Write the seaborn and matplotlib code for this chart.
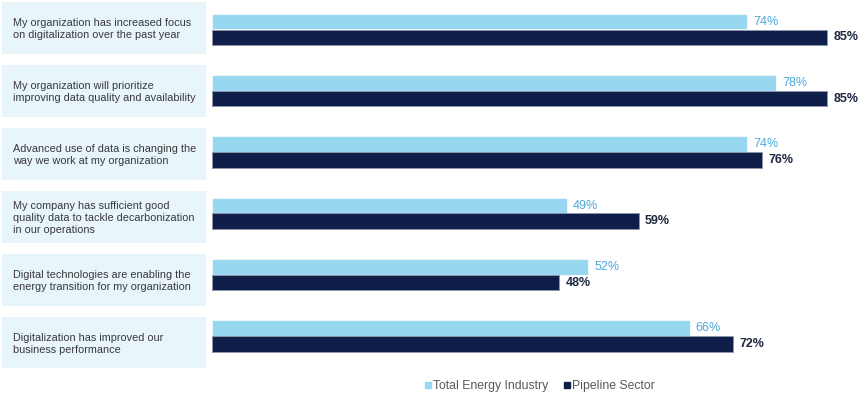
import numpy as np
import pandas as pd
import matplotlib.pyplot as plt
import matplotlib.patches as mpatches
from matplotlib.lines import Line2D
import seaborn as sns

# ============ DATA ============
statements = [
    "My organization has increased focus\non digitalization over the past year",
    "My organization will prioritize\nimproving data quality and availability",
    "Advanced use of data is changing the\nway we work at my organization",
    "My company has sufficient good\nquality data to tackle decarbonization\nin our operations",
    "Digital technologies are enabling the\nenergy transition for my organization",
    "Digitalization has improved our\nbusiness performance",
]
series_names = ["Total Energy Industry", "Pipeline Sector"]
total_energy = [74, 78, 74, 49, 52, 66]
pipeline = [85, 85, 76, 59, 48, 72]

LIGHT = '#97D8F0'
DARK = '#101F4A'
BOX = '#E8F6FC'
LIGHT_TXT = '#4AA8DC'
DARK_TXT = '#1E2840'

df = pd.DataFrame({
    'statement': statements * 2,
    'series': [series_names[0]] * len(statements) + [series_names[1]] * len(statements),
    'value': total_energy + pipeline,
})

sns.set_theme(style='white')
plt.rcParams['font.family'] = ['Liberation Sans', 'DejaVu Sans']

W, H = 864, 397
fig = plt.figure(figsize=(W / 100, H / 100), dpi=100)

# both panels span the same pixel band, but rows have slightly different pitch
top_px, bot_px = 0, 380
ax_y = 1 - bot_px / H
ax_h = (bot_px - top_px) / H


def row_ylim(first_center, pitch):
    # y data limits so that row i sits at first_center + i*pitch pixels
    return ((bot_px - first_center) / pitch, -(first_center - top_px) / pitch)


# ============ BARS ============
x0_px = 212
ax = fig.add_axes([x0_px / W, ax_y, 1 - x0_px / W, ax_h])
px_per_pct = (827 - 212) / 85.0
sns.barplot(data=df, y='statement', x='value', hue='series', orient='h',
            palette=[LIGHT, DARK], saturation=1, width=0.51, ax=ax, legend=False)
for bar in ax.containers[0]:
    bar.set_edgecolor('white')
    bar.set_linewidth(0.5)
for bar in ax.containers[1]:
    bar.set_edgecolor('#8d96aa')
    bar.set_linewidth(0.7)
ax.set_xlim(0, (W - x0_px) / px_per_pct)
ax.set_ylim(*row_ylim(29.5, 61.3))
ax.axis('off')

ax.bar_label(ax.containers[0], fmt='%d%%', padding=4.5, color=LIGHT_TXT, fontsize=9)
ax.bar_label(ax.containers[1], fmt='%d%%', padding=4.5, color=DARK_TXT, fontsize=9,
             fontweight='bold')

# ============ LABEL BOXES ============
ax_lab = fig.add_axes([0, ax_y, 207 / W, ax_h])
ax_lab.set_xlim(0, 207)
ax_lab.set_ylim(*row_ylim(28.0, 62.9))
ax_lab.axis('off')
for i, txt in enumerate(statements):
    ax_lab.add_patch(mpatches.Rectangle((2, i - 0.413), 204, 0.826, facecolor=BOX,
                                        edgecolor='none'))
    ax_lab.text(13, i + 0.02, txt, ha='left', va='center', fontsize=7.85,
                color='#383838', linespacing=1.28)

# ============ LEGEND ============
handles = [Line2D([0], [0], marker='s', linestyle='', markersize=4.5,
                  markerfacecolor=c, markeredgecolor=c) for c in [LIGHT, DARK]]
leg = fig.legend(handles, series_names, loc='center', bbox_to_anchor=(0.625, 0.027),
                 ncol=2, frameon=False, fontsize=8.8, handlelength=0.5,
                 handletextpad=0.15, columnspacing=1.3)
for t in leg.get_texts():
    t.set_color('#595959')

plt.savefig('out.png', dpi=100)
